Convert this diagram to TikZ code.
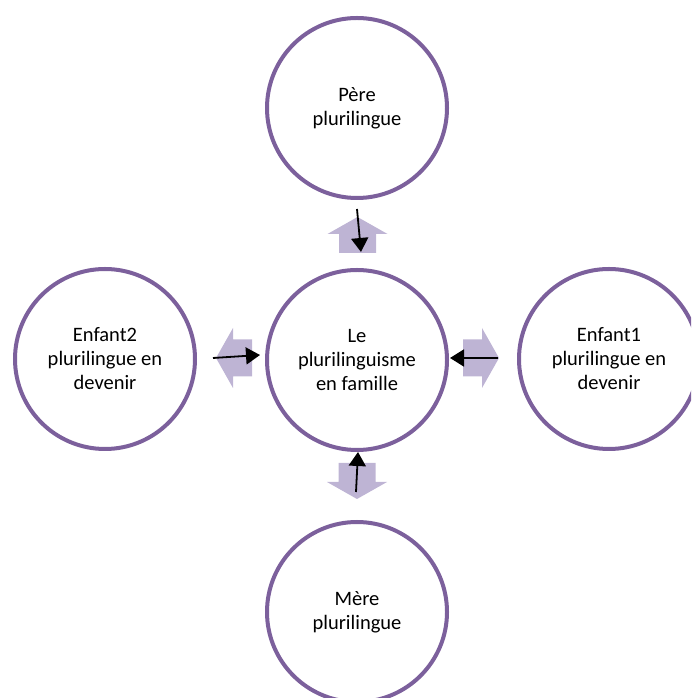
\documentclass[tikz,border=0pt]{standalone}
\usepackage{fontspec}
\setmainfont{Carlito}
\usetikzlibrary{arrows.meta}
\definecolor{cpurple}{RGB}{124,96,156}
\definecolor{clav}{RGB}{190,180,212}
\tikzset{
  x=1pt,y=1pt,
  bubble/.style={circle,draw=cpurple,line width=4pt,fill=white,minimum size=180pt,inner sep=0pt,
    align=center,font=\fontsize{20.5pt}{24pt}\selectfont,text=black},
  blockarrow/.pic={\fill[clav] (0,-18.5) -- (19,-18.5) -- (19,-30) -- (36,0) -- (19,30) -- (19,18.5) -- (0,18.5) -- cycle;},
  link/.style={line width=1.8pt,-{Triangle[length=14pt,width=17pt]}}
}
\begin{document}
\begin{tikzpicture}
\useasboundingbox (0,0) rectangle (691,698);
\clip (0,0) rectangle (691,698);
% block arrows
\pic at (357.5,445) [rotate=90] {blockarrow};
\pic at (357,235) [rotate=-90] {blockarrow};
\pic at (252,340) [rotate=180] {blockarrow};
\pic at (463,340) {blockarrow};
% circles
\node[bubble] (centre) at (357,338) {Le\\plurilinguisme\\en famille};
\node[bubble] (pere) at (357,590) {Père\\plurilingue};
\node[bubble] (mere) at (357,86) {Mère\\plurilingue};
\node[bubble] (enfant2) at (105,339) {Enfant2\\plurilingue en\\devenir};
\node[bubble] (enfant1) at (609,339) {Enfant1\\plurilingue en\\devenir};
% black arrows
\coordinate (ta) at (357,489);
\coordinate (tb) at (361,446);
\coordinate (la) at (213,340);
\coordinate (lb) at (260,343);
\coordinate (ra) at (498,340);
\coordinate (rb) at (450,340);
\coordinate (ba) at (356,206);
\coordinate (bb) at (358,246);
\draw[link] (ta) -- (tb);
\draw[link] (la) -- (lb);
\draw[link] (ra) -- (rb);
\draw[link] (ba) -- (bb);
\end{tikzpicture}
\end{document}
